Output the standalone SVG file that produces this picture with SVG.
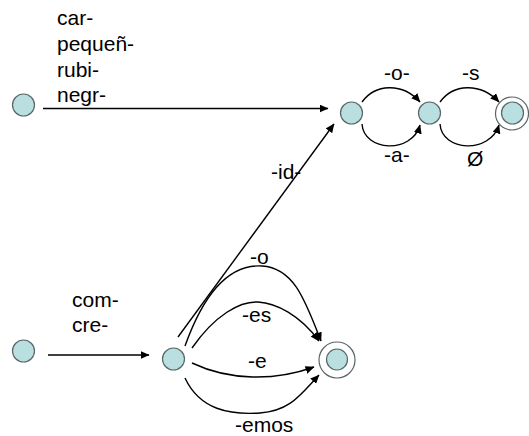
<svg xmlns="http://www.w3.org/2000/svg" width="529" height="436" viewBox="0 0 529 436">
<style>
.st{fill:#b9dfe0;stroke:#5a6666;stroke-width:1.2}
.ring{fill:#fff;stroke:#5a6666;stroke-width:1.2}
.e{fill:none;stroke:#000;stroke-width:1.4;marker-end:url(#ah)}
text{font-family:"Liberation Sans",Arial,sans-serif;font-size:21px;fill:#000}
</style>
<defs>
<marker id="ah" markerUnits="userSpaceOnUse" markerWidth="9" markerHeight="8" refX="8.5" refY="4" orient="auto">
<path d="M0,0 L9,4 L0,8 z" fill="#000"/>
</marker>
</defs>
<rect width="529" height="436" fill="#fff"/>
<g id="connectors">
<line class="e" x1="43" y1="108.5" x2="328" y2="108.5"/>
<line class="e" x1="48" y1="355" x2="149" y2="355"/>
<line class="e" x1="178" y1="337" x2="334" y2="124"/>
<path class="e" d="M362,102 C375,84 402,82 420,102"/>
<path class="e" d="M362,124 C364,152 412,154 420,125"/>
<path class="e" d="M440,102 C453,84 480,82 499,102"/>
<path class="e" d="M440,124 C442,152 490,154 499,125"/>
<path class="e" d="M185,346 C205,290 230,264 262,266 S305,300 321,341"/>
<path class="e" d="M192,348 C215,315 240,301 258,302 S300,315 319,341"/>
<path class="e" d="M192,363 C230,381 275,381 314,367"/>
<path class="e" d="M185,378 C200,410 230,415 260,413 S300,395 319,375"/>
</g>
<g id="labels">
<text x="57" y="25">car-</text>
<text x="57" y="51">pequeñ-</text>
<text x="57" y="77">rubi-</text>
<text x="57" y="102">negr-</text>
<text x="72" y="307">com-</text>
<text x="72" y="332">cre-</text>
<text x="384" y="80">-o-</text>
<text x="384" y="162">-a-</text>
<text x="462" y="80">-s</text>
<text x="467" y="166">Ø</text>
<text x="271" y="179">-id-</text>
<text x="250" y="264">-o</text>
<text x="242" y="322">-es</text>
<text x="248" y="368">-e</text>
<text x="235" y="432">-emos</text>
</g>
<g id="n1"><circle class="st" cx="23.5" cy="105" r="11"/></g>
<g id="n2"><circle class="st" cx="351.5" cy="113" r="11"/></g>
<g id="n3"><circle class="st" cx="429.5" cy="113" r="11"/></g>
<g id="n4"><circle class="ring" cx="512" cy="113.5" r="16.5"/><circle class="st" cx="512.5" cy="113" r="11"/></g>
<g id="n5"><circle class="st" cx="23.5" cy="351" r="11"/></g>
<g id="n6"><circle class="st" cx="173.5" cy="359" r="11"/></g>
<g id="n7"><circle class="ring" cx="337" cy="360" r="18"/><circle class="st" cx="337" cy="359.5" r="10.5"/></g>
</svg>
